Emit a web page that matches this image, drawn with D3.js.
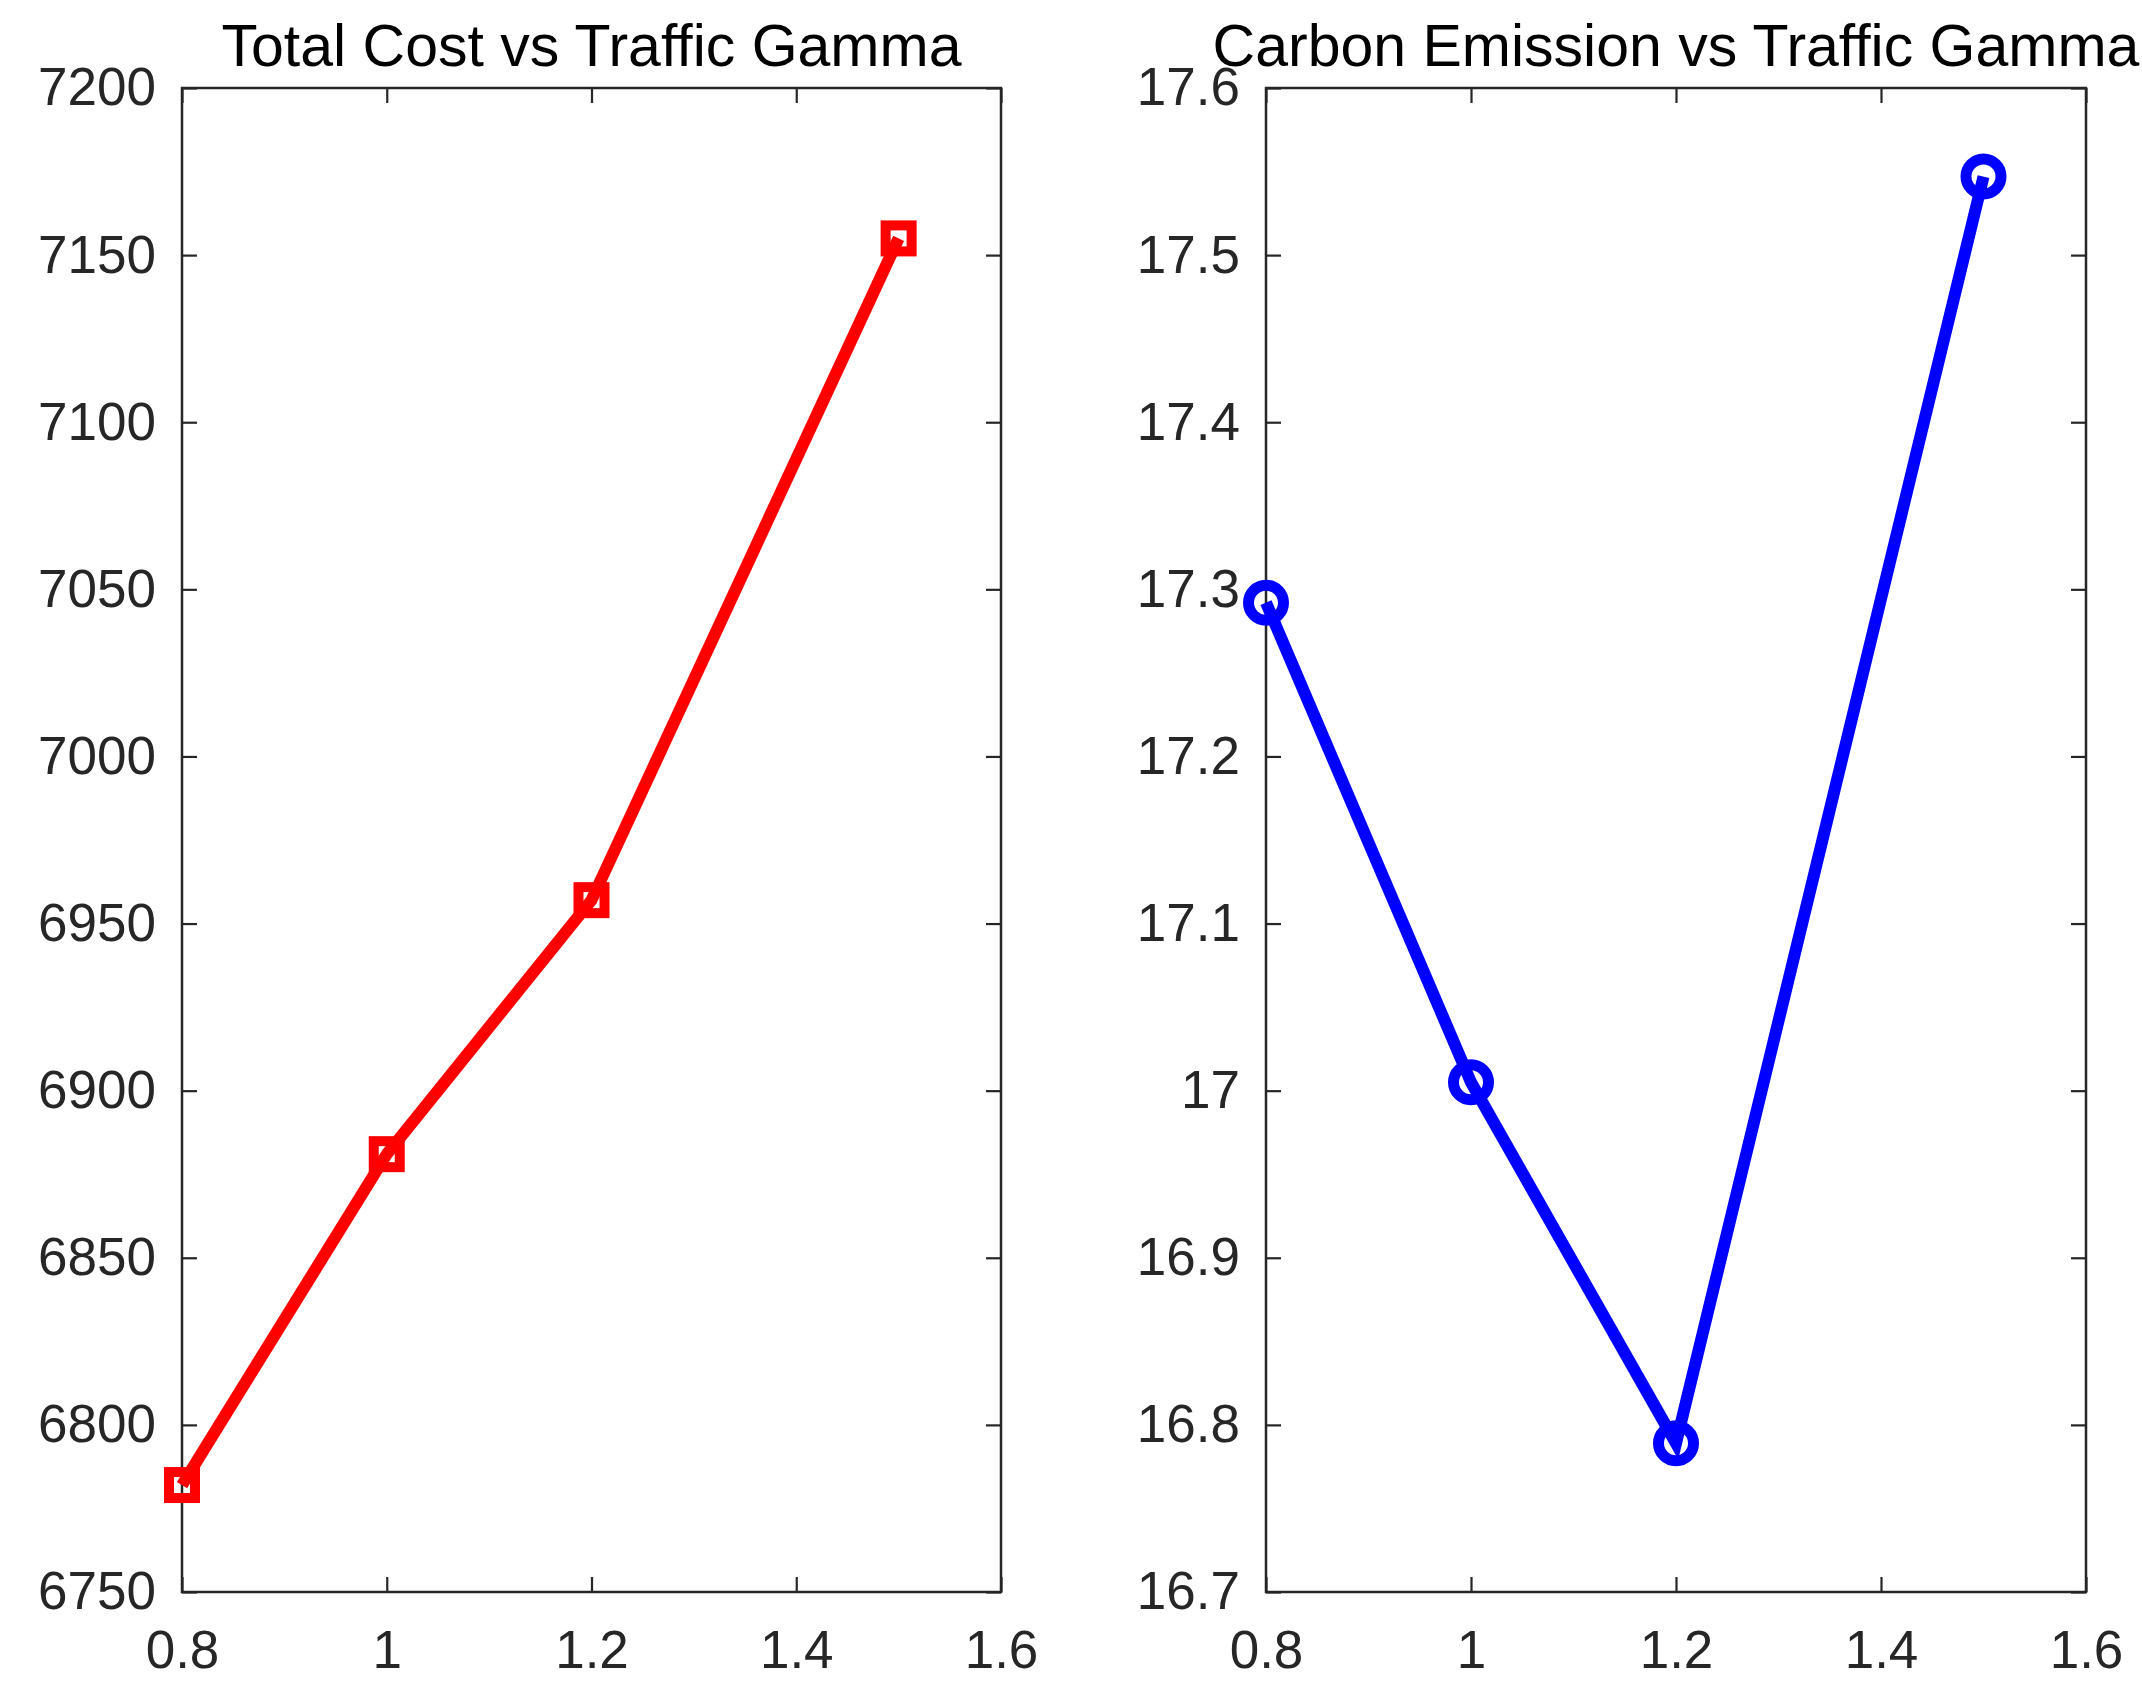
<!DOCTYPE html>
<html><head><meta charset="utf-8">
<script src="https://cdn.jsdelivr.net/npm/d3@7"></script>
<style>html,body{margin:0;padding:0;background:#fff;}svg{display:block;}</style>
</head><body>
<script>
const gammaValues = [0.8, 1.0, 1.2, 1.5];
const totalCost = [6782, 6881, 6957, 7155];
const carbonEmission = [17.292, 17.005, 16.789, 17.547];
const xTicks = [0.8, 1, 1.2, 1.4, 1.6];
const costTicks = [6750, 6800, 6850, 6900, 6950, 7000, 7050, 7100, 7150, 7200];
const carbonTicks = [16.7, 16.8, 16.9, 17, 17.1, 17.2, 17.3, 17.4, 17.5, 17.6];
const titles = ["Total Cost vs Traffic Gamma", "Carbon Emission vs Traffic Gamma"];

(function () {
const W = 2142, H = 1695;
const svg = d3.select("body").append("svg").attr("width", W).attr("height", H)
  .style("font-family", "Arial, 'Liberation Sans', Helvetica, sans-serif");

const plotTop = 88, plotBottom = 1592;
const panels = [
  {left: 182, right: 1001, values: totalCost, ticks: costTicks, domain: [6750, 7200], fmt: d => d3.format("d")(d), color: "#ff0000", marker: "square", title: titles[0]},
  {left: 1266, right: 2086, values: carbonEmission, ticks: carbonTicks, domain: [16.7, 17.6], fmt: d => (Math.round(d*10)/10).toString(), color: "#0000ff", marker: "circle", title: titles[1]}
];

panels.forEach(p => {
  const x = d3.scaleLinear().domain([0.8, 1.6]).range([p.left, p.right]);
  const y = d3.scaleLinear().domain(p.domain).range([plotBottom, plotTop]);
  const g = svg.append("g");
  const tickLen = 15;
  const axColor = "#262626";

  g.append("rect").attr("x", p.left).attr("y", plotTop).attr("width", p.right - p.left).attr("height", plotBottom - plotTop)
    .attr("fill", "none").attr("stroke", axColor).attr("stroke-width", 2.5);

  const xg = g.append("g").attr("transform", `translate(0,${plotBottom})`)
    .call(d3.axisBottom(x).tickValues(xTicks).tickSize(-tickLen).tickPadding(38).tickFormat(d => d3.format("")(d)));
  const xgt = g.append("g").attr("transform", `translate(0,${plotTop})`)
    .call(d3.axisTop(x).tickValues(xTicks).tickSize(-tickLen).tickFormat(""));
  const yg = g.append("g").attr("transform", `translate(${p.left},0)`)
    .call(d3.axisLeft(y).tickValues(p.ticks).tickSize(-tickLen).tickPadding(26).tickFormat(p.fmt));
  const ygr = g.append("g").attr("transform", `translate(${p.right},0)`)
    .call(d3.axisRight(y).tickValues(p.ticks).tickSize(-tickLen).tickFormat(""));

  [xg, xgt, yg, ygr].forEach(a => {
    a.select(".domain").remove();
    a.selectAll(".tick line").attr("stroke", axColor).attr("stroke-width", 2.2);
    a.selectAll(".tick text").attr("fill", axColor).style("font-size", "53px").style("font-family", "Arial, 'Liberation Sans', sans-serif");
  });

  g.append("text").attr("x", (p.left + p.right) / 2).attr("y", plotTop - 22)
    .attr("text-anchor", "middle").attr("fill", "#000").style("font-size", "59px").text(p.title);

  const line = d3.line().x((d, i) => x(gammaValues[i])).y(d => y(d));
  g.append("path").datum(p.values).attr("d", line).attr("fill", "none")
    .attr("stroke", p.color).attr("stroke-width", 12).attr("stroke-linejoin", "miter");

  if (p.marker === "square") {
    const s = 26;
    g.selectAll("rect.mk").data(p.values).enter().append("rect").attr("class", "mk")
      .attr("x", (d, i) => x(gammaValues[i]) - s / 2).attr("y", d => y(d) - s / 2)
      .attr("width", s).attr("height", s).attr("fill", "none").attr("stroke", p.color).attr("stroke-width", 10);
  } else {
    g.selectAll("circle.mk").data(p.values).enter().append("circle").attr("class", "mk")
      .attr("cx", (d, i) => x(gammaValues[i])).attr("cy", d => y(d)).attr("r", 17.5)
      .attr("fill", "none").attr("stroke", p.color).attr("stroke-width", 11);
  }
});
})();
</script>
</body></html>
